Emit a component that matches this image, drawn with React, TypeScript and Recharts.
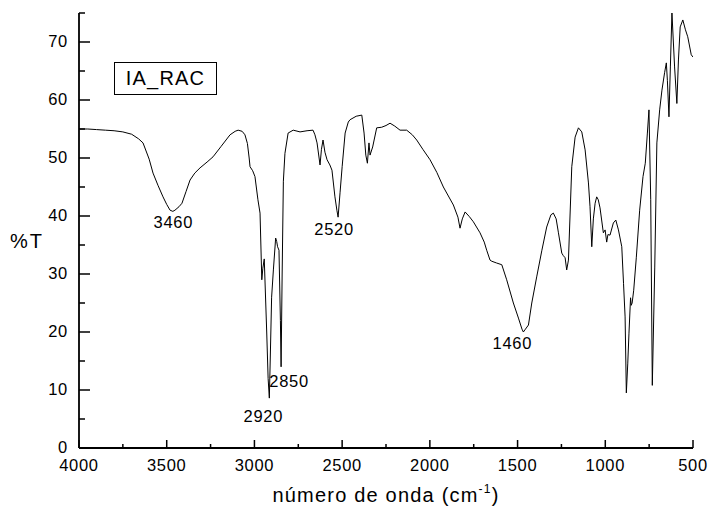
import { LineChart, Line, XAxis, YAxis, ReferenceDot, Legend } from "recharts";

// IR spectrum (cm-1 vs %T)
const WAVENUMBER = [
  4000, 3950, 3900, 3850, 3800, 3750, 3700, 3660, 3635, 3600, 3578, 3550, 3521, 3500, 3481, 3465,
  3453, 3430, 3413, 3390, 3367, 3340, 3310, 3270, 3236, 3190, 3139, 3110, 3093, 3070, 3054, 3040,
  3030, 3025, 3010, 2997, 2980, 2968, 2958, 2952, 2944, 2930, 2922, 2915, 2910, 2902, 2892, 2879,
  2873, 2868, 2860, 2852, 2848, 2842, 2835, 2826, 2808, 2779, 2740, 2700, 2666, 2655, 2643, 2626,
  2618, 2609, 2598, 2586, 2570, 2558, 2541, 2530, 2523, 2512, 2500, 2483, 2465, 2455, 2420, 2388,
  2375, 2365, 2356, 2347, 2341, 2326, 2303, 2275, 2250, 2227, 2200, 2170, 2132, 2100, 2075, 2040,
  1999, 1960, 1923, 1866, 1840, 1828, 1815, 1799, 1775, 1752, 1714, 1690, 1676, 1657, 1647, 1620,
  1590, 1562, 1524, 1495, 1475, 1467, 1455, 1438, 1419, 1391, 1362, 1334, 1310, 1296, 1280, 1267,
  1248, 1240, 1229, 1220, 1210, 1191, 1172, 1153, 1134, 1115, 1096, 1087, 1077, 1068, 1058, 1049,
  1040, 1030, 1011, 1001, 992, 985, 973, 954, 940, 925, 906, 896, 887, 880, 872, 865,
  856, 852, 847, 838, 823, 804, 785, 772, 760, 751, 741, 732, 718, 706, 690, 677,
  662, 652, 646, 637, 629, 620, 605, 592, 583, 573, 558, 543, 530, 510, 500,
];
const TRANSMITTANCE = [
  55.0, 55.0, 54.9, 54.8, 54.7, 54.5, 54.1, 53.3, 52.6, 49.8, 47.4, 45.3, 43.3, 42.0, 41.0, 40.8,
  41.0, 41.6, 42.2, 44.2, 46.2, 47.4, 48.3, 49.3, 50.2, 52.0, 54.0, 54.6, 54.8, 54.6, 54.0, 52.5,
  50.0, 48.5, 47.8, 46.8, 42.8, 40.5, 29.0, 31.0, 32.6, 20.0, 12.0, 8.6, 15.0, 26.0, 30.7, 36.2,
  35.6, 34.7, 34.1, 22.0, 14.0, 30.0, 46.0, 50.8, 54.3, 54.8, 54.5, 54.7, 54.8, 54.0, 52.6, 48.8,
  51.5, 53.1, 51.0, 49.7, 48.8, 47.9, 43.3, 41.0, 39.8, 44.0, 48.5, 54.3, 56.2, 56.6, 57.2, 57.4,
  54.3, 50.5, 49.1, 52.6, 50.5, 51.9, 55.2, 55.3, 55.6, 56.0, 55.5, 54.8, 54.8, 54.0, 53.1, 51.5,
  49.7, 47.5, 45.0, 41.9, 39.8, 37.9, 39.5, 40.7, 39.9, 39.0, 37.1, 35.5, 34.1, 32.4, 32.2, 31.9,
  31.6, 29.0, 25.0, 22.4, 20.5, 20.0, 20.5, 21.2, 25.0, 29.5, 34.0, 38.1, 40.2, 40.5, 39.5, 37.1,
  33.6, 33.2, 32.8, 30.7, 32.4, 48.5, 53.6, 55.2, 54.5, 51.4, 45.7, 41.6, 34.7, 39.5, 42.2, 43.3,
  42.8, 41.4, 37.1, 37.6, 35.5, 36.8, 36.7, 38.8, 39.3, 37.6, 34.7, 28.4, 22.6, 9.5, 14.5, 19.8,
  25.9, 24.6, 25.0, 27.2, 32.9, 41.0, 46.8, 49.1, 54.3, 58.3, 42.8, 10.8, 31.2, 52.6, 58.3, 61.7,
  64.7, 66.4, 63.4, 57.1, 65.7, 75.0, 65.7, 59.4, 66.9, 72.6, 73.8, 72.1, 70.9, 67.8, 67.4,
];

const X_TICKS = [4000, 3750, 3500, 3250, 3000, 2750, 2500, 2250, 2000, 1750, 1500, 1250, 1000, 750, 500];
const Y_TICKS = [0, 5, 10, 15, 20, 25, 30, 35, 40, 45, 50, 55, 60, 65, 70, 75];

const PEAK_LABELS = ["3460", "2920", "2850", "2520", "1460"];
const PEAK_WN = [3462, 2915, 2848, 2523, 1467];
const PEAK_T = [40.8, 8.6, 14.0, 39.8, 20.0];
// label offset from the band minimum, px
const PEAK_OFFSET: [number, number][] = [
  [0, 17],
  [-6, 24],
  [8, 20],
  [-4, 18],
  [-11, 17],
];

const SERIES_NAME = "IA_RAC";
const FONT = "'Liberation Sans', Arial, sans-serif";

const data = WAVENUMBER.map((wn, i) => ({ wn, t: TRANSMITTANCE[i] }));

function BottomTick({ x, y, payload }: any) {
  const major = payload.value % 500 === 0;
  return (
    <g>
      <line x1={x} x2={x} y1={y} y2={y - (major ? 8 : 4)} stroke="#000" strokeWidth={1.5} />
      {major && (
        <text x={x} y={y + 23} textAnchor="middle" fontSize={16.5} letterSpacing={0.7} fontFamily={FONT} fill="#000">
          {payload.value}
        </text>
      )}
    </g>
  );
}

function TopTick({ x, y }: any) {
  return <line x1={x} x2={x} y1={y} y2={y + 4} stroke="#000" strokeWidth={1.2} />;
}

function LeftTick({ x, y, payload }: any) {
  const major = payload.value % 10 === 0;
  return (
    <g>
      <line x1={x} x2={x + (major ? 11 : 6)} y1={y} y2={y} stroke="#000" strokeWidth={1.5} />
      {major && (
        <text x={x - 11} y={y - 1} dy="0.34em" textAnchor="end" fontSize={16.5} letterSpacing={0.7} fontFamily={FONT} fill="#000">
          {payload.value}
        </text>
      )}
    </g>
  );
}

function RightTick({ x, y }: any) {
  return <line x1={x} x2={x - 5} y1={y} y2={y} stroke="#000" strokeWidth={1.2} />;
}

function SeriesBox() {
  return (
    <div
      style={{
        border: "1px solid #000",
        width: 101,
        height: 31,
        lineHeight: "31px",
        textAlign: "center",
        fontFamily: FONT,
        fontSize: 20,
        letterSpacing: 1.2,
        color: "#000",
        background: "#fff",
      }}
    >
      {SERIES_NAME}
    </div>
  );
}

export default function App() {
  return (
    <div style={{ position: "absolute", left: 0, top: 0, background: "#fff" }}>
      <LineChart width={708} height={507} data={data} margin={{ top: 13, right: 15, bottom: 0, left: 0 }}>
        <XAxis
          dataKey="wn"
          type="number"
          domain={[500, 4000]}
          reversed
          allowDataOverflow
          ticks={X_TICKS}
          interval={0}
          height={59}
          tickSize={0}
          tickMargin={0}
          tickLine={false}
          tick={<BottomTick />}
          axisLine={{ stroke: "#000", strokeWidth: 1.8 }}
          label={{
            content: () => (
              <text x={386} y={502} textAnchor="middle" fontSize={20} letterSpacing={1.2} fontFamily={FONT} fill="#000">
                número de onda (cm
                <tspan fontSize={12} dy={-9}>-1</tspan>
                <tspan dy={9}>)</tspan>
              </text>
            ),
          }}
        />
        <XAxis
          xAxisId="top"
          orientation="top"
          dataKey="wn"
          type="number"
          domain={[500, 4000]}
          reversed
          allowDataOverflow
          ticks={X_TICKS}
          interval={0}
          height={0}
          tickSize={0}
          tickMargin={0}
          tickLine={false}
          tick={<TopTick />}
          axisLine={{ stroke: "#000", strokeWidth: 1.8 }}
        />
        <YAxis
          type="number"
          domain={[0, 75]}
          allowDataOverflow
          ticks={Y_TICKS}
          interval={0}
          width={79}
          tickSize={0}
          tickMargin={0}
          tickLine={false}
          tick={<LeftTick />}
          axisLine={{ stroke: "#000", strokeWidth: 1.8 }}
          label={{
            content: () => (
              <text x={10} y={248} fontSize={20} letterSpacing={2} fontFamily={FONT} fill="#000">
                %T
              </text>
            ),
          }}
        />
        <YAxis
          yAxisId="right"
          orientation="right"
          type="number"
          domain={[0, 75]}
          allowDataOverflow
          ticks={Y_TICKS}
          interval={0}
          width={0}
          tickSize={0}
          tickMargin={0}
          tickLine={false}
          tick={<RightTick />}
          axisLine={{ stroke: "#000", strokeWidth: 1.8 }}
        />
        <Legend
          layout="horizontal"
          verticalAlign="middle"
          align="center"
          wrapperStyle={{ left: 114, top: 62, width: "auto" }}
          content={() => <SeriesBox />}
        />
        <Line
          type="linear"
          dataKey="t"
          name={SERIES_NAME}
          stroke="#000"
          strokeWidth={1}
          dot={false}
          activeDot={false}
          isAnimationActive={false}
        />
        {PEAK_LABELS.map((label, i) => (
          <ReferenceDot
            key={label}
            x={PEAK_WN[i]}
            y={PEAK_T[i]}
            r={1}
            fill="none"
            stroke="none"
            label={{
              content: ({ viewBox }: any) => (
                <text
                  x={viewBox.x + viewBox.width / 2 + PEAK_OFFSET[i][0]}
                  y={viewBox.y + viewBox.height / 2 + PEAK_OFFSET[i][1]}
                  textAnchor="middle"
                  fontSize={16.5}
                  letterSpacing={0.7}
                  fontFamily={FONT}
                  fill="#000"
                >
                  {label}
                </text>
              ),
            }}
          />
        ))}
      </LineChart>
    </div>
  );
}
